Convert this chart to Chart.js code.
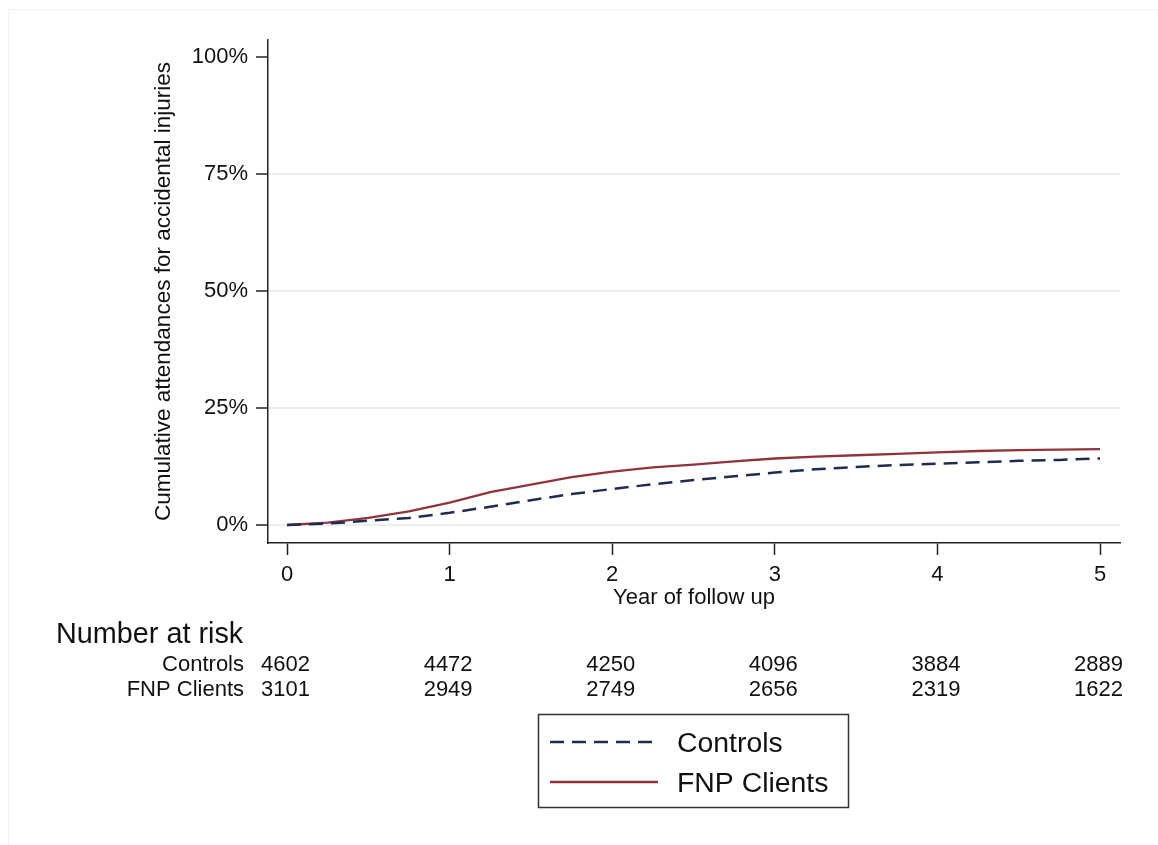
<!DOCTYPE html>
<html>
<head>
<meta charset="utf-8">
<title>Cumulative attendances for accidental injuries</title>
<script src="https://cdn.jsdelivr.net/npm/chart.js@4/dist/chart.umd.min.js"></script>
<style>
  html, body { margin: 0; padding: 0; background: #ffffff; }
  #wrap { position: relative; width: 1158px; height: 845px; }
  canvas { display: block; }
</style>
</head>
<body>
<div id="wrap"><canvas id="chart" width="1158" height="845"></canvas></div>
<script>
// Follow-up time in years
const years = [0, 0.25, 0.5, 0.75, 1, 1.25, 1.5, 1.75, 2, 2.25, 2.5, 2.75, 3, 3.25, 3.5, 3.75, 4, 4.25, 4.5, 4.75, 5];

// Cumulative attendance (%) for each group
const controls   = [0, 0.3, 0.9, 1.5, 2.6, 3.9, 5.3, 6.6, 7.7, 8.7, 9.6, 10.4, 11.2, 11.9, 12.4, 12.8, 13.1, 13.4, 13.7, 13.9, 14.2];
const fnpClients = [0, 0.5, 1.5, 2.9, 4.8, 7.0, 8.6, 10.2, 11.4, 12.3, 12.9, 13.6, 14.2, 14.6, 14.9, 15.2, 15.5, 15.8, 16.0, 16.1, 16.2];

// Axis ticks
const xTicks = [0, 1, 2, 3, 4, 5];
const yTicks = [0, 25, 50, 75, 100];

// Number at risk table
const riskYears      = [0, 1, 2, 3, 4, 5];
const controlsAtRisk = [4602, 4472, 4250, 4096, 3884, 2889];
const fnpAtRisk      = [3101, 2949, 2749, 2656, 2319, 1622];

const seriesNames = ['Controls', 'FNP Clients'];

const FONT = '"Liberation Sans", Arial, Helvetica, sans-serif';
const NAVY = '#1f2c50';
const MAROON = '#8f343b';
const AXIS = '#222222';

Chart.defaults.font.family = FONT;
Chart.defaults.color = '#111111';

// Risk table underneath the x axis
const riskTable = {
  id: 'riskTable',
  afterDraw(chart) {
    const ctx = chart.ctx;
    const x = chart.scales.x;
    ctx.save();
    ctx.fillStyle = '#111111';
    ctx.textBaseline = 'alphabetic';
    ctx.font = '28.8px ' + FONT;
    ctx.textAlign = 'left';
    ctx.fillText('Number at risk', 56, 643);
    ctx.font = '22px ' + FONT;
    ctx.textAlign = 'right';
    ctx.fillText(seriesNames[0], 244, 671);
    ctx.fillText(seriesNames[1], 244, 696);
    ctx.textAlign = 'center';
    riskYears.forEach((t, i) => {
      const px = x.getPixelForValue(t) - 1.5;
      ctx.fillText(String(controlsAtRisk[i]), px, 671);
      ctx.fillText(String(fnpAtRisk[i]), px, 696);
    });
    ctx.restore();
  }
};

// Framed legend below the table, using each dataset's own line style
const boxedLegend = {
  id: 'boxedLegend',
  afterDraw(chart) {
    const ctx = chart.ctx;
    ctx.save();
    ctx.strokeStyle = '#333333';
    ctx.lineWidth = 1.5;
    ctx.strokeRect(538.5, 714.5, 310, 93);
    const rows = [742, 782];
    chart.data.datasets.forEach((ds, i) => {
      const y = rows[i];
      ctx.beginPath();
      ctx.strokeStyle = ds.borderColor;
      ctx.lineWidth = ds.borderWidth;
      ctx.setLineDash(ds.borderDash || []);
      ctx.moveTo(550, y);
      ctx.lineTo(658, y);
      ctx.stroke();
      ctx.setLineDash([]);
      ctx.fillStyle = '#111111';
      ctx.font = '28.4px ' + FONT;
      ctx.textAlign = 'left';
      ctx.textBaseline = 'alphabetic';
      ctx.fillText(ds.label, 677, y + 10);
    });
    ctx.restore();
  }
};

// Faint frame around the figure
const frame = {
  id: 'frame',
  beforeDraw(chart) {
    const ctx = chart.ctx;
    ctx.save();
    ctx.fillStyle = '#ffffff';
    ctx.fillRect(0, 0, chart.width, chart.height);
    ctx.strokeStyle = '#f1f1f1';
    ctx.lineWidth = 1;
    ctx.beginPath();
    ctx.moveTo(8.5, chart.height);
    ctx.lineTo(8.5, 9.5);
    ctx.lineTo(chart.width, 9.5);
    ctx.stroke();
    ctx.restore();
  }
};

new Chart(document.getElementById('chart'), {
  type: 'line',
  data: {
    datasets: [
      {
        label: seriesNames[0],
        data: years.map((t, i) => ({ x: t, y: controls[i] })),
        borderColor: NAVY,
        borderWidth: 2.5,
        borderDash: [14, 8],
        borderCapStyle: 'butt',
        pointRadius: 0,
        tension: 0,
        fill: false
      },
      {
        label: seriesNames[1],
        data: years.map((t, i) => ({ x: t, y: fnpClients[i] })),
        borderColor: MAROON,
        borderWidth: 2.3,
        pointRadius: 0,
        tension: 0,
        fill: false
      }
    ]
  },
  options: {
    responsive: false,
    animation: false,
    layout: { padding: { left: 0, right: 38, top: 40, bottom: 232 } },
    plugins: {
      legend: { display: false },
      tooltip: { enabled: false }
    },
    scales: {
      x: {
        type: 'linear',
        min: -0.117,
        max: 5.123,
        afterFit(scale) { scale.height = 70; },
        afterBuildTicks(scale) { scale.ticks = xTicks.map(v => ({ value: v })); },
        ticks: {
          font: { size: 22 },
          color: '#111111',
          padding: 7,
          maxRotation: 0,
          callback: v => String(v)
        },
        grid: {
          drawOnChartArea: false,
          drawTicks: true,
          tickLength: 12,
          tickColor: AXIS,
          tickWidth: 1.5
        },
        border: { display: true, color: AXIS, width: 1.5 },
        title: {
          display: true,
          text: 'Year of follow up',
          font: { size: 22 },
          color: '#111111',
          padding: { top: 0, bottom: 2 }
        }
      },
      y: {
        type: 'linear',
        min: -3.85,
        max: 103.6,
        afterFit(scale) { scale.width = 268; },
        afterBuildTicks(scale) { scale.ticks = yTicks.map(v => ({ value: v })); },
        ticks: {
          font: { size: 22 },
          color: '#111111',
          padding: 8,
          callback: v => v + '%'
        },
        grid: {
          color: ctx => (ctx.tick && ctx.tick.value === 100) ? 'rgba(0,0,0,0)' : '#e7eff1',
          lineWidth: 2,
          drawTicks: true,
          tickLength: 12,
          tickColor: AXIS,
          tickWidth: 1.5
        },
        border: { display: true, color: AXIS, width: 1.5 },
        title: {
          display: true,
          text: 'Cumulative attendances for accidental injuries',
          font: { size: 22.5 },
          color: '#111111',
          padding: { top: 150, bottom: 0 }
        }
      }
    }
  },
  plugins: [frame, riskTable, boxedLegend]
});
</script>
</body>
</html>
